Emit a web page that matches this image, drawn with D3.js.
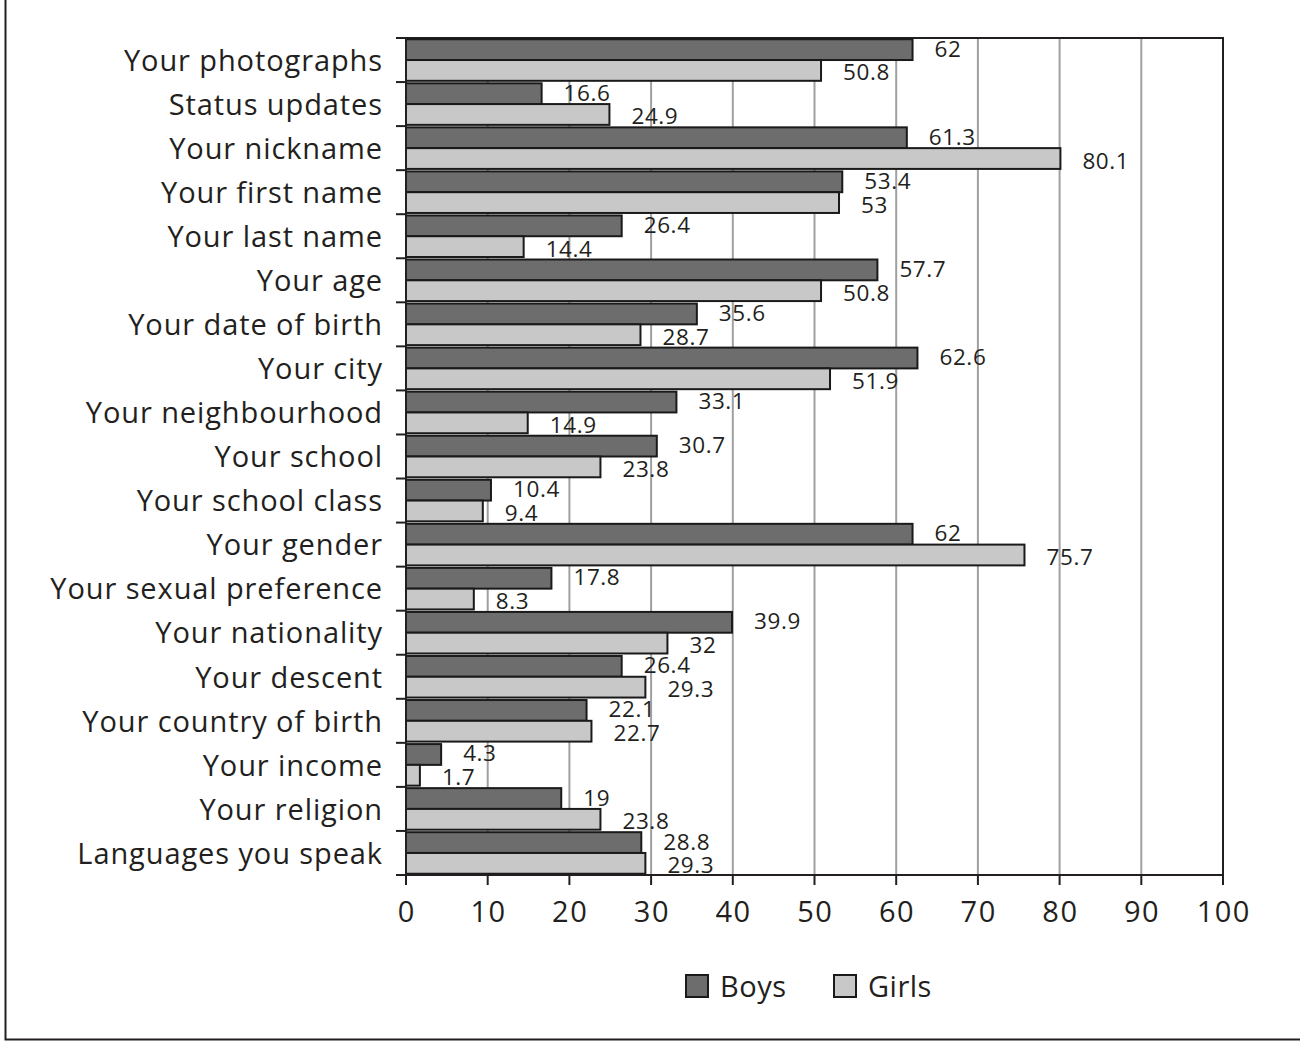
<!DOCTYPE html>
<html><head><meta charset="utf-8">
<script src="https://cdn.jsdelivr.net/npm/d3@7"></script>
<style>body{margin:0;background:#fff}svg{display:block}</style>
</head><body>
<script>
const categories = ["Your photographs","Status updates","Your nickname","Your first name","Your last name","Your age","Your date of birth","Your city","Your neighbourhood","Your school","Your school class","Your gender","Your sexual preference","Your nationality","Your descent","Your country of birth","Your income","Your religion","Languages you speak"];
const boys = [62,16.6,61.3,53.4,26.4,57.7,35.6,62.6,33.1,30.7,10.4,62,17.8,39.9,26.4,22.1,4.3,19,28.8];
const girls = [50.8,24.9,80.1,53,14.4,50.8,28.7,51.9,14.9,23.8,9.4,75.7,8.3,32,29.3,22.7,1.7,23.8,29.3];
const seriesNames = ["Boys","Girls"];
const xTicks = [0,10,20,30,40,50,60,70,80,90,100];

const W=1300,H=1041;
const L=406,R=1223,T=38,B=875;
const font='"Open Sans", sans-serif';
const txt='#231f20';
const colors=['#6d6d6d','#c8c8c8'];

const svg=d3.select('body').append('svg').attr('width',W).attr('height',H);
svg.append('rect').attr('x',5.5).attr('y',-10).attr('width',1400).attr('height',1049.5)
  .attr('fill','none').attr('stroke','#231f20').attr('stroke-width',2);

const x=d3.scaleLinear().domain([0,100]).range([L,R]);
const y=d3.scaleBand().domain(categories).range([T,B]);
const sub=d3.scaleBand().domain(seriesNames).range([0,y.bandwidth()]).paddingOuter(0.06);

// gridlines
svg.append('g').selectAll('line').data(xTicks.filter(d=>d>0&&d<100)).join('line')
  .attr('x1',d=>x(d)).attr('x2',d=>x(d)).attr('y1',T).attr('y2',B)
  .attr('stroke','#a0a0a0').attr('stroke-width',2);

// frame top/right
svg.append('path').attr('d',`M${L},${T}H${R}V${B}`).attr('fill','none').attr('stroke','#231f20').attr('stroke-width',2);

const data=categories.map((c,i)=>({c,vals:[boys[i],girls[i]]}));
const g=svg.append('g');
data.forEach(d=>{
  d.vals.forEach((v,j)=>{
    const yy=y(d.c)+sub(seriesNames[j]);
    g.append('rect').attr('x',x(0)).attr('y',yy).attr('width',x(v)-x(0)).attr('height',sub.bandwidth())
      .attr('fill',colors[j]).attr('stroke','#1a1a1a').attr('stroke-width',2);
    g.append('text').attr('x',x(v)+22).attr('y',yy+sub.bandwidth()/2+(j===0?1:4))
      .attr('dominant-baseline','middle').attr('font-family',font).attr('font-size',22.5)
      .attr('letter-spacing',0.6).attr('fill',txt)
      .text(v);
  });
});

// y axis
const ya=svg.append('g');
ya.append('line').attr('x1',L).attr('x2',L).attr('y1',T).attr('y2',B).attr('stroke','#231f20').attr('stroke-width',2);
const bounds=categories.map(c=>y(c)).concat([B]);
ya.selectAll('.tk').data(bounds).join('line').attr('x1',L-10).attr('x2',L).attr('y1',d=>d).attr('y2',d=>d)
  .attr('stroke','#231f20').attr('stroke-width',2);
ya.selectAll('text').data(categories).join('text')
  .attr('x',383).attr('y',d=>y(d)+y.bandwidth()/2+3).attr('text-anchor','end').attr('dominant-baseline','middle')
  .attr('font-family',font).attr('font-size',29).attr('letter-spacing',0.9).attr('fill',txt).text(d=>d);

// x axis
const xa=svg.append('g');
xa.append('line').attr('x1',L-10).attr('x2',R).attr('y1',B).attr('y2',B).attr('stroke','#231f20').attr('stroke-width',2);
xa.selectAll('line.t').data(xTicks).join('line').attr('class','t').attr('x1',d=>x(d)).attr('x2',d=>x(d)).attr('y1',B).attr('y2',B+10)
  .attr('stroke','#231f20').attr('stroke-width',2);
xa.selectAll('text').data(xTicks).join('text').attr('x',d=>x(d)+0.8).attr('y',914).attr('text-anchor','middle').attr('dominant-baseline','middle')
  .attr('font-family',font).attr('font-size',29).attr('letter-spacing',1.5).attr('fill',txt).text(d=>d);

// legend
const legX=[686,834];
seriesNames.forEach((n,i)=>{
  svg.append('rect').attr('x',legX[i]).attr('y',975).attr('width',22).attr('height',22)
    .attr('fill',colors[i]).attr('stroke','#1a1a1a').attr('stroke-width',2);
  svg.append('text').attr('x',legX[i]+34).attr('y',989).attr('dominant-baseline','middle')
    .attr('font-family',font).attr('font-size',29).attr('letter-spacing',0.5).attr('fill',txt).text(n);
});
</script>
</body></html>
